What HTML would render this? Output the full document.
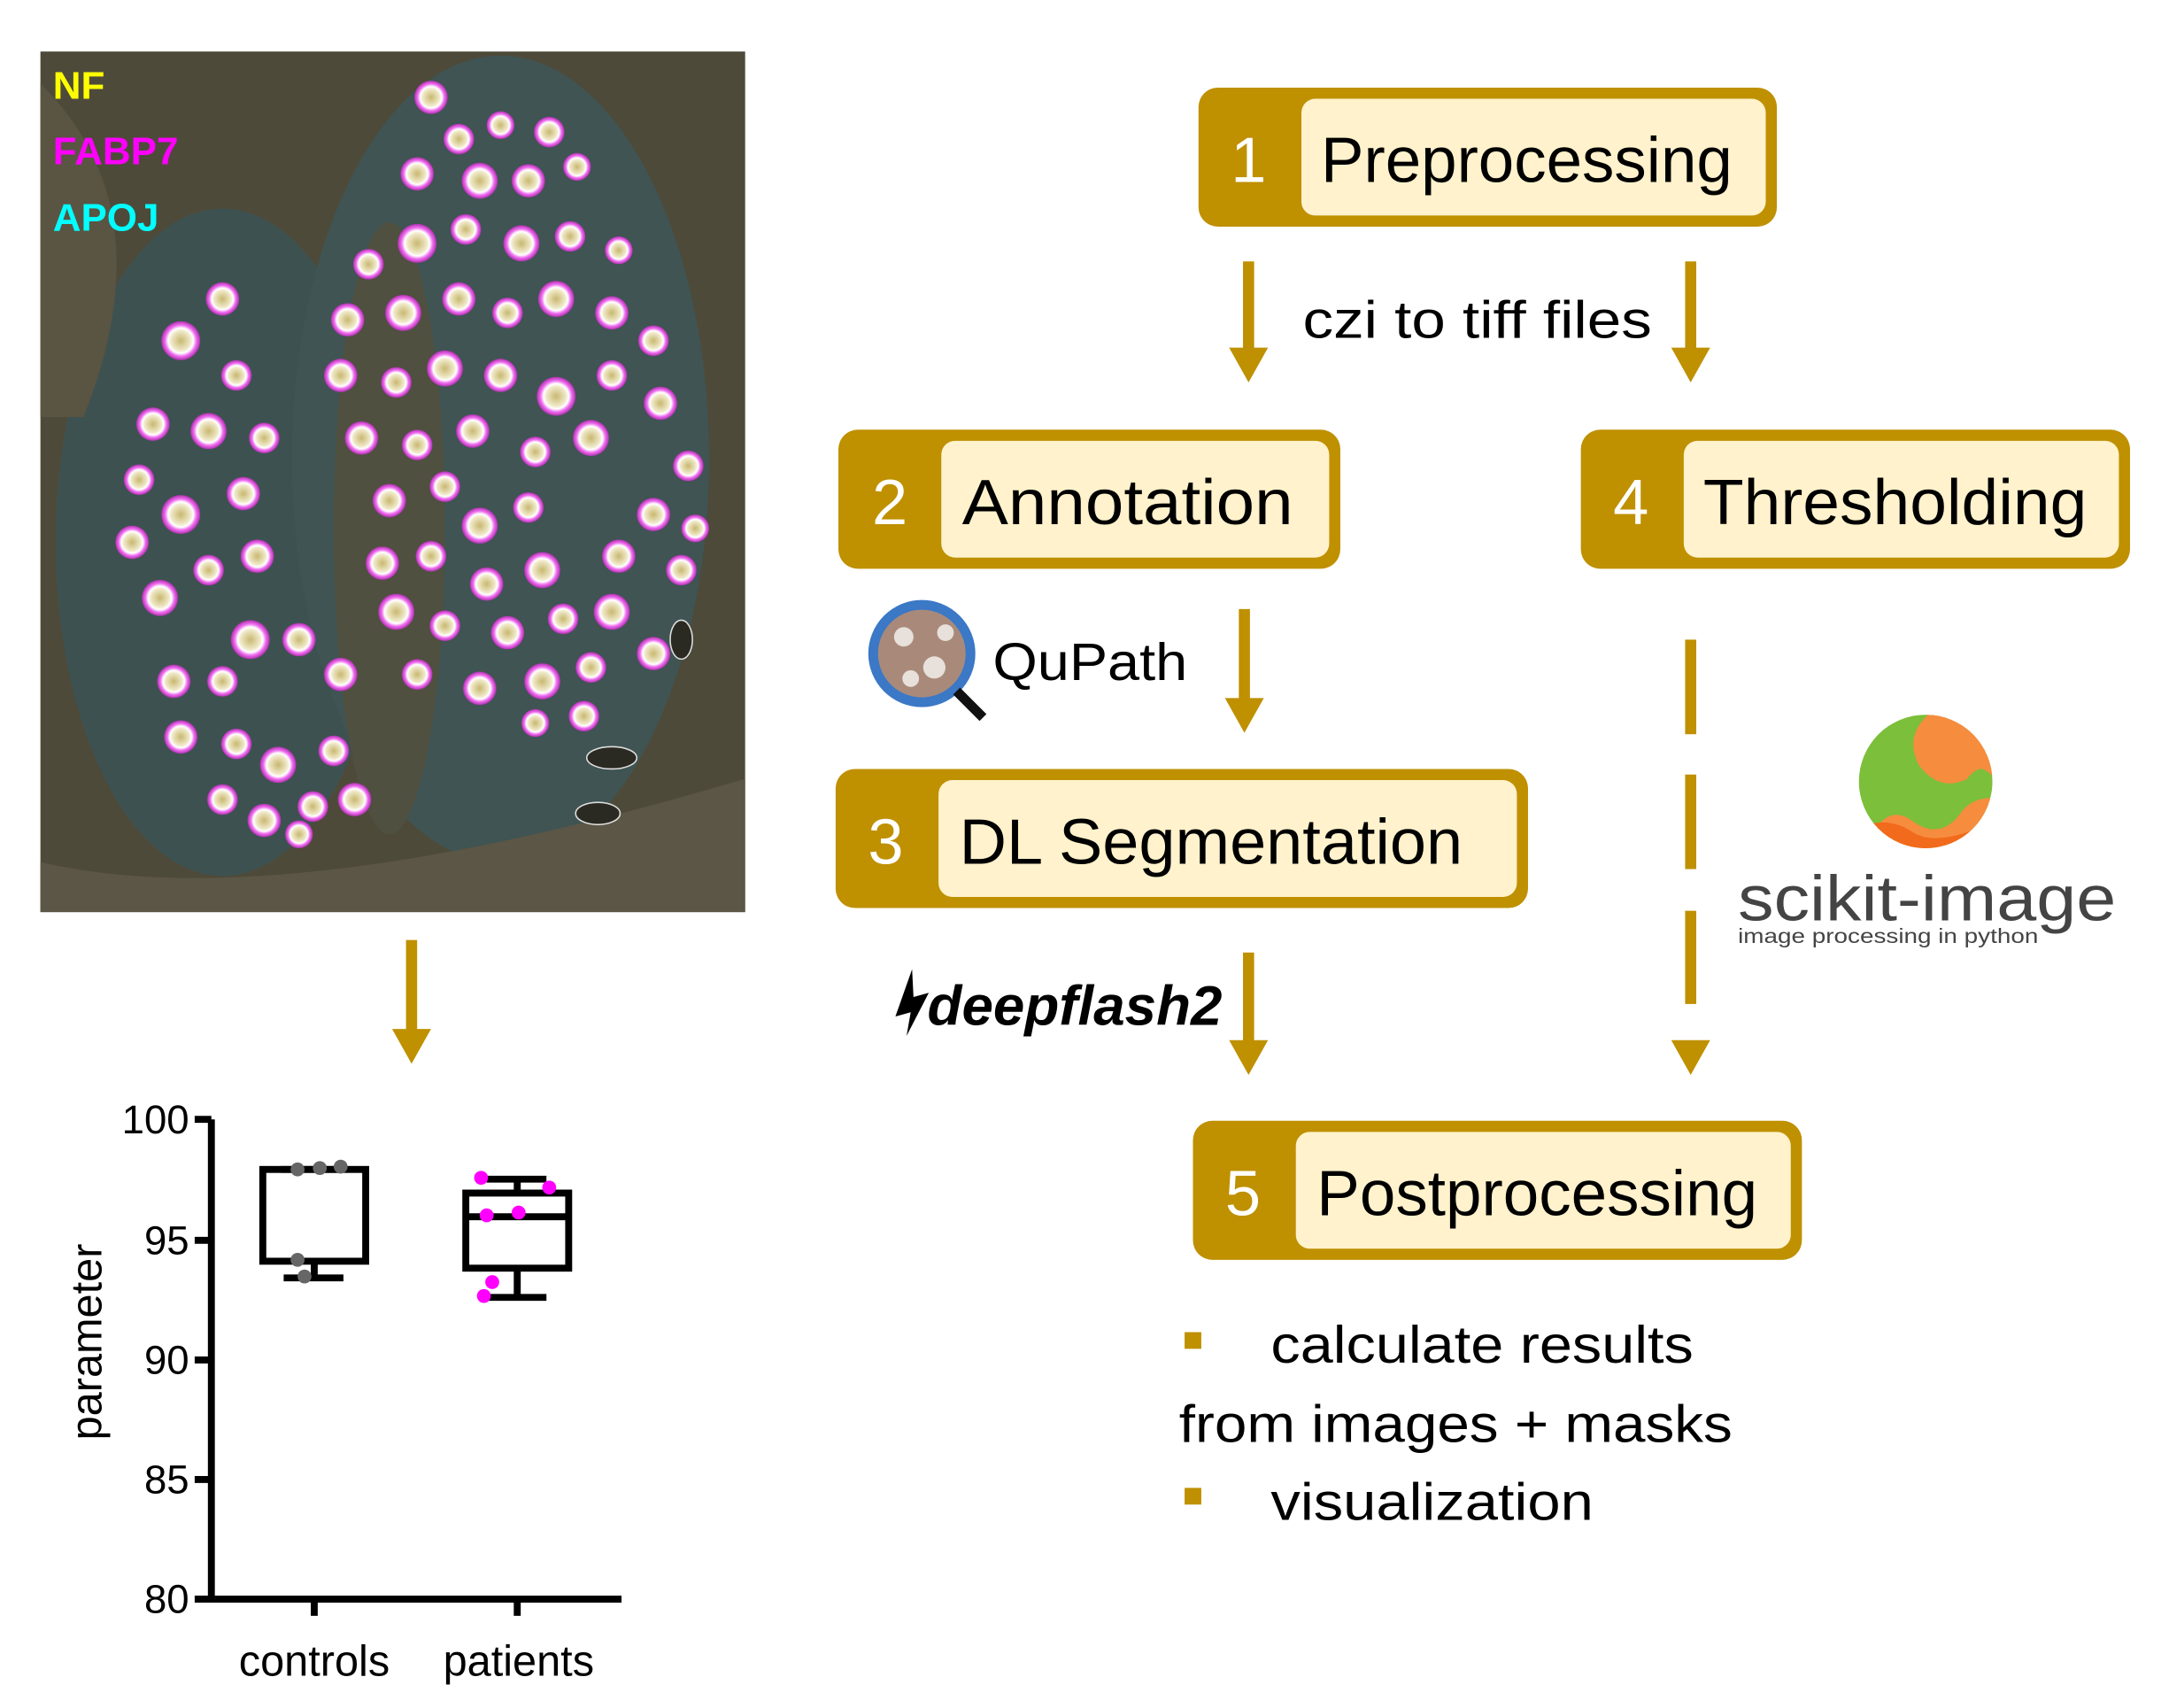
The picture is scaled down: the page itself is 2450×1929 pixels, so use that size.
<!DOCTYPE html>
<html><head><meta charset="utf-8"><style>html,body{margin:0;padding:0;background:#fff}svg{display:block}</style></head>
<body>
<svg width="2450" height="1929" viewBox="0 0 1560 1228.3" xmlns="http://www.w3.org/2000/svg" font-family="Liberation Sans, sans-serif">
<defs>
<radialGradient id="cell" cx="50%" cy="50%" r="50%">
<stop offset="0" stop-color="#c8b870"/><stop offset="0.5" stop-color="#efe8c8"/><stop offset="0.65" stop-color="#ffffff"/><stop offset="0.8" stop-color="#f070f0"/><stop offset="1" stop-color="#b030b0"/>
</radialGradient>
<clipPath id="mc"><rect x="29" y="37" width="507" height="619"/></clipPath>
<clipPath id="sk"><circle cx="1385" cy="562" r="48"/></clipPath>
</defs>
<!-- micrograph -->
<g clip-path="url(#mc)">
<rect x="29" y="37" width="507" height="619" fill="#4e4a3a"/>
<ellipse cx="160" cy="390" rx="120" ry="240" fill="#3d5250"/>
<ellipse cx="360" cy="330" rx="150" ry="290" fill="#3f5453"/>
<ellipse cx="280" cy="380" rx="40" ry="220" fill="#4f5040"/>
<path d="M29 620 Q200 660 536 560 L536 656 L29 656Z" fill="#5b5645"/>
<path d="M29 60 Q120 150 60 300 L29 300Z" fill="#5a5442"/>
<g fill="url(#cell)">
<circle cx="310" cy="70" r="12"/><circle cx="330" cy="100" r="11"/><circle cx="360" cy="90" r="10"/><circle cx="395" cy="95" r="11"/><circle cx="300" cy="125" r="12"/>
<circle cx="345" cy="130" r="13"/><circle cx="380" cy="130" r="12"/><circle cx="415" cy="120" r="10"/><circle cx="300" cy="175" r="14"/><circle cx="335" cy="165" r="11"/>
<circle cx="375" cy="175" r="13"/><circle cx="410" cy="170" r="11"/><circle cx="445" cy="180" r="10"/><circle cx="265" cy="190" r="11"/><circle cx="250" cy="230" r="12"/>
<circle cx="290" cy="225" r="13"/><circle cx="330" cy="215" r="12"/><circle cx="365" cy="225" r="11"/><circle cx="400" cy="215" r="13"/><circle cx="440" cy="225" r="12"/>
<circle cx="470" cy="245" r="11"/><circle cx="245" cy="270" r="12"/><circle cx="285" cy="275" r="11"/><circle cx="320" cy="265" r="13"/><circle cx="360" cy="270" r="12"/>
<circle cx="400" cy="285" r="14"/><circle cx="440" cy="270" r="11"/><circle cx="475" cy="290" r="12"/><circle cx="260" cy="315" r="12"/><circle cx="300" cy="320" r="11"/>
<circle cx="340" cy="310" r="12"/><circle cx="385" cy="325" r="11"/><circle cx="425" cy="315" r="13"/><circle cx="495" cy="335" r="11"/><circle cx="280" cy="360" r="12"/>
<circle cx="320" cy="350" r="11"/><circle cx="345" cy="378" r="13"/><circle cx="380" cy="365" r="11"/><circle cx="470" cy="370" r="12"/><circle cx="500" cy="380" r="10"/>
<circle cx="275" cy="405" r="12"/><circle cx="310" cy="400" r="11"/><circle cx="350" cy="420" r="12"/><circle cx="390" cy="410" r="13"/><circle cx="445" cy="400" r="12"/>
<circle cx="490" cy="410" r="11"/><circle cx="285" cy="440" r="13"/><circle cx="320" cy="450" r="11"/><circle cx="365" cy="455" r="12"/><circle cx="405" cy="445" r="11"/>
<circle cx="440" cy="440" r="13"/><circle cx="470" cy="470" r="12"/><circle cx="425" cy="480" r="11"/><circle cx="390" cy="490" r="13"/><circle cx="345" cy="495" r="12"/>
<circle cx="300" cy="485" r="11"/><circle cx="420" cy="515" r="11"/><circle cx="385" cy="520" r="10"/><circle cx="130" cy="245" r="14"/><circle cx="160" cy="215" r="12"/>
<circle cx="170" cy="270" r="11"/><circle cx="110" cy="305" r="12"/><circle cx="150" cy="310" r="13"/><circle cx="190" cy="315" r="11"/><circle cx="100" cy="345" r="11"/>
<circle cx="130" cy="370" r="14"/><circle cx="175" cy="355" r="12"/><circle cx="95" cy="390" r="12"/><circle cx="150" cy="410" r="11"/><circle cx="185" cy="400" r="12"/>
<circle cx="115" cy="430" r="13"/><circle cx="180" cy="460" r="14"/><circle cx="215" cy="460" r="12"/><circle cx="125" cy="490" r="12"/><circle cx="160" cy="490" r="11"/>
<circle cx="245" cy="485" r="12"/><circle cx="130" cy="530" r="12"/><circle cx="170" cy="535" r="11"/><circle cx="200" cy="550" r="13"/><circle cx="240" cy="540" r="11"/>
<circle cx="160" cy="575" r="11"/><circle cx="190" cy="590" r="12"/><circle cx="225" cy="580" r="11"/><circle cx="255" cy="575" r="12"/><circle cx="215" cy="600" r="10"/>
</g>
<ellipse cx="440" cy="545" rx="18" ry="8" fill="#2a2a22" stroke="#ddd" stroke-width="1"/>
<ellipse cx="430" cy="585" rx="16" ry="8" fill="#2a2a22" stroke="#ddd" stroke-width="1"/>
<ellipse cx="490" cy="460" rx="8" ry="14" fill="#2a2a22" stroke="#ddd" stroke-width="1"/>
</g>
<text x="38" y="71" font-size="28" font-weight="bold" fill="#ffff00">NF</text>
<text x="38" y="118" font-size="28" font-weight="bold" fill="#ff00ff">FABP7</text>
<text x="38" y="166" font-size="28" font-weight="bold" fill="#00ffff">APOJ</text>

<!-- left arrow -->
<rect x="292" y="676" width="8" height="66" fill="#bf9000"/>
<polygon points="282,740 310,740 296,765" fill="#bf9000"/>

<!-- chart -->
<g stroke="#000" stroke-width="5" fill="none">
<path d="M152 805 V1150 H447"/>
<path d="M140 805 H152 M140 892 H152 M140 978 H152 M140 1064 H152 M140 1150 H152"/>
<path d="M226 1150 V1162 M372 1150 V1162"/>
<rect x="189" y="841" width="74" height="66"/>
<path d="M226 907 V919 M204 919 H247 M202 841 H245"/>
<rect x="335" y="858" width="74" height="54"/>
<path d="M335 875 H409 M372 858 V848 M350 848 H393 M372 912 V933 M350 933 H393"/>
</g>
<g fill="#666"><circle cx="214" cy="841" r="5"/><circle cx="230" cy="840" r="5"/><circle cx="245" cy="839" r="5"/><circle cx="214" cy="906" r="5"/><circle cx="219" cy="918" r="5"/></g>
<g fill="#ff00ff"><circle cx="346" cy="847" r="5"/><circle cx="395" cy="854" r="5"/><circle cx="350" cy="874" r="5"/><circle cx="373" cy="872" r="5"/><circle cx="354" cy="922" r="5"/><circle cx="348" cy="932" r="5"/></g>
<g font-size="29" text-anchor="end" fill="#000"><text x="136" y="815">100</text><text x="136" y="902">95</text><text x="136" y="988">90</text><text x="136" y="1074">85</text><text x="136" y="1160">80</text></g>
<text transform="translate(73,965) rotate(-90)" font-size="31" text-anchor="middle">parameter</text>
<text x="226" y="1205" font-size="31" text-anchor="middle">controls</text>
<text x="373" y="1205" font-size="31" text-anchor="middle">patients</text>

<!-- boxes -->
<g font-size="46">
<rect x="862" y="63" width="416" height="100" rx="14" fill="#bf9000"/><rect x="936" y="71" width="334" height="84" rx="10" fill="#fff2cc"/>
<text x="898" y="131" fill="#fff" text-anchor="middle">1</text><text x="950" y="131" textLength="296" lengthAdjust="spacingAndGlyphs">Preprocessing</text>

<rect x="603" y="309" width="361" height="100" rx="14" fill="#bf9000"/><rect x="677" y="317" width="279" height="84" rx="10" fill="#fff2cc"/>
<text x="640" y="377" fill="#fff" text-anchor="middle">2</text><text x="692" y="377" textLength="238" lengthAdjust="spacingAndGlyphs">Annotation</text>

<rect x="1137" y="309" width="395" height="100" rx="14" fill="#bf9000"/><rect x="1211" y="317" width="313" height="84" rx="10" fill="#fff2cc"/>
<text x="1173" y="377" fill="#fff" text-anchor="middle">4</text><text x="1225" y="377" textLength="276" lengthAdjust="spacingAndGlyphs">Thresholding</text>

<rect x="601" y="553" width="498" height="100" rx="14" fill="#bf9000"/><rect x="675" y="561" width="416" height="84" rx="10" fill="#fff2cc"/>
<text x="637" y="621" fill="#fff" text-anchor="middle">3</text><text x="690" y="621" textLength="362" lengthAdjust="spacingAndGlyphs">DL Segmentation</text>

<rect x="858" y="806" width="438" height="100" rx="14" fill="#bf9000"/><rect x="932" y="814" width="356" height="84" rx="10" fill="#fff2cc"/>
<text x="894" y="874" fill="#fff" text-anchor="middle">5</text><text x="947" y="874" textLength="317" lengthAdjust="spacingAndGlyphs">Postprocessing</text>
</g>

<!-- arrows -->
<g fill="#bf9000">
<rect x="894" y="188" width="8" height="64"/><polygon points="884,250 912,250 898,275"/>
<rect x="1212" y="188" width="8" height="64"/><polygon points="1202,250 1230,250 1216,275"/>
<rect x="891" y="438" width="8" height="66"/><polygon points="881,502 909,502 895,527"/>
<rect x="894" y="685" width="8" height="65"/><polygon points="884,748 912,748 898,773"/>
<rect x="1212" y="460" width="8" height="68"/><rect x="1212" y="557" width="8" height="68"/><rect x="1212" y="655" width="8" height="67"/>
<polygon points="1202,748 1230,748 1216,773"/>
</g>
<text x="937" y="243" font-size="38" textLength="251" lengthAdjust="spacingAndGlyphs">czi to tiff files</text>

<!-- QuPath -->
<circle cx="663" cy="470" r="33" fill="#a98a7a"/>
<g fill="#e8e0da"><circle cx="650" cy="458" r="7"/><circle cx="672" cy="480" r="8"/><circle cx="680" cy="455" r="6"/><circle cx="655" cy="488" r="6"/></g>
<circle cx="663" cy="470" r="35" fill="none" stroke="#3b78c6" stroke-width="7"/>
<line x1="688" y1="497" x2="707" y2="516" stroke="#111" stroke-width="7"/>
<text x="714" y="489" font-size="38" textLength="140" lengthAdjust="spacingAndGlyphs">QuPath</text>

<!-- deepflash2 -->
<polygon points="656,697 644,731 655,728 652,745 668,714 657,717" fill="#000"/>
<text x="667" y="737" font-size="40" font-style="italic" font-weight="bold" textLength="212" lengthAdjust="spacingAndGlyphs">deepflash2</text>

<!-- scikit-image -->
<g clip-path="url(#sk)">
<rect x="1330" y="510" width="110" height="110" fill="#7cbf3a"/>
<path d="M1386 505 L1445 505 L1445 575 Q1420 570 1410 585 Q1395 605 1375 590 Q1360 580 1350 595 L1335 620 L1445 620 L1445 575 Q1425 540 1415 560 Q1395 570 1380 550 Q1370 530 1386 515Z" fill="#f68c3e"/>
<path d="M1330 598 Q1355 585 1375 598 Q1395 612 1445 585 L1445 620 L1330 620Z" fill="#f26a1b"/>
<path d="M1386 515 Q1370 530 1380 550 Q1395 570 1415 560 Q1425 545 1445 560 L1445 505 L1390 505Z" fill="#f68c3e"/>
</g>
<text x="1250" y="662" font-size="46" fill="#444" textLength="272" lengthAdjust="spacingAndGlyphs">scikit-image</text>
<text x="1250" y="678" font-size="15" fill="#444" textLength="216" lengthAdjust="spacingAndGlyphs">image processing in python</text>

<!-- bullets -->
<rect x="852" y="958" width="12" height="12" fill="#bf9000"/>
<rect x="852" y="1070" width="12" height="12" fill="#bf9000"/>
<g font-size="38">
<text x="914" y="980" textLength="304" lengthAdjust="spacingAndGlyphs">calculate results</text>
<text x="848" y="1037" textLength="398" lengthAdjust="spacingAndGlyphs">from images + masks</text>
<text x="914" y="1093" textLength="232" lengthAdjust="spacingAndGlyphs">visualization</text>
</g>
</svg>
</body></html>
